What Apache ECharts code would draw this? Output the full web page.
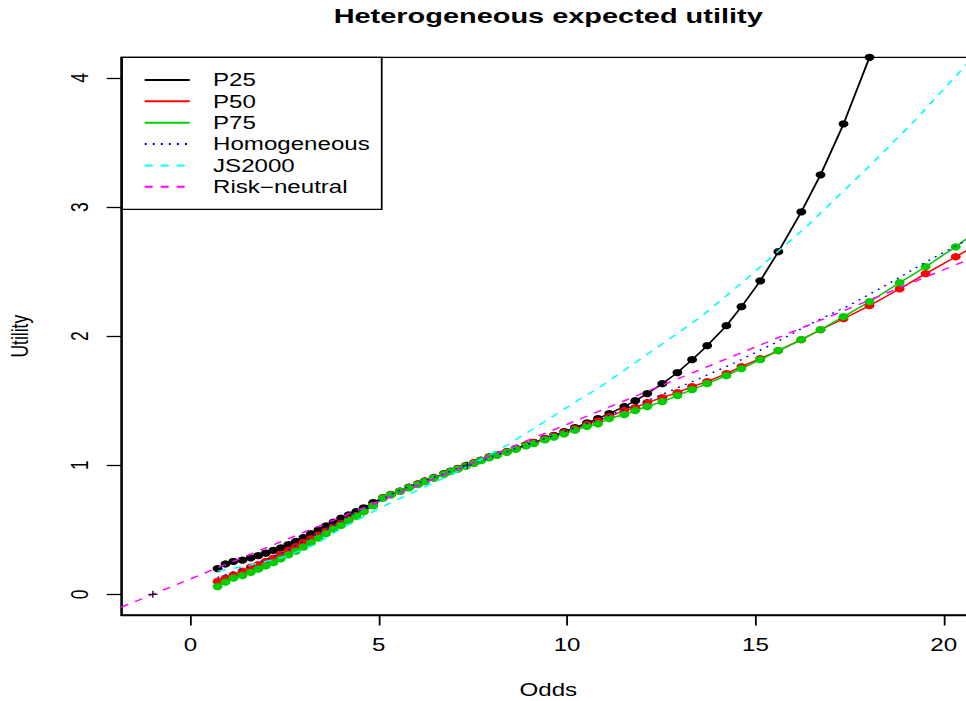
<!DOCTYPE html>
<html><head><meta charset="utf-8">
<script src="https://cdn.jsdelivr.net/npm/echarts@6/dist/echarts.min.js"></script>
<style>
html,body{margin:0;padding:0;background:#fff;overflow:hidden;}
#wrap{width:701px;height:701px;transform:scaleX(1.378031);transform-origin:0 0;}
</style></head><body><div id="wrap"></div>
<script>
// ---- data ----
const odds = [0.72,0.93,1.14,1.38,1.6,1.8,2.0,2.2,2.4,2.6,2.8,3.0,3.2,3.4,3.6,3.8,4.0,4.2,4.4,4.6,4.85,5.11,5.32,5.56,5.80,6.04,6.22,6.46,6.73,6.91,7.10,7.31,7.53,7.71,7.93,8.14,8.40,8.64,8.91,9.12,9.41,9.65,9.92,10.21,10.53,10.82,11.12,11.52,11.81,12.13,12.53,12.93,13.32,13.72,14.23,14.63,15.13,15.61,16.22,16.73,17.34,18.03,18.83,19.52,20.32,21.1];
const p25 = [0.20,0.235,0.255,0.265,0.283,0.30,0.32,0.34,0.36,0.385,0.41,0.44,0.47,0.50,0.53,0.56,0.59,0.615,0.64,0.67,0.71,0.75,0.775,0.80,0.83,0.855,0.878,0.905,0.935,0.955,0.975,0.998,1.02,1.04,1.064,1.083,1.106,1.13,1.158,1.178,1.208,1.232,1.26,1.292,1.328,1.362,1.40,1.455,1.50,1.555,1.632,1.718,1.818,1.926,2.081,2.228,2.429,2.654,2.963,3.25,3.644,4.16,4.85,5.5,6.3,7.2];
const p50 = [0.10,0.125,0.15,0.18,0.21,0.23,0.255,0.28,0.31,0.34,0.37,0.40,0.43,0.46,0.49,0.52,0.55,0.58,0.61,0.64,0.69,0.748,0.772,0.80,0.828,0.853,0.876,0.903,0.933,0.953,0.973,0.996,1.018,1.038,1.062,1.081,1.104,1.128,1.156,1.175,1.204,1.227,1.253,1.283,1.316,1.343,1.377,1.424,1.447,1.486,1.524,1.563,1.609,1.648,1.71,1.764,1.826,1.888,1.973,2.05,2.135,2.236,2.367,2.484,2.615,2.745];
const p75 = [0.06,0.095,0.125,0.145,0.17,0.195,0.22,0.245,0.275,0.305,0.335,0.365,0.40,0.435,0.47,0.505,0.535,0.57,0.605,0.64,0.685,0.745,0.77,0.797,0.825,0.85,0.873,0.90,0.93,0.95,0.97,0.993,1.015,1.035,1.058,1.077,1.10,1.123,1.15,1.168,1.196,1.218,1.243,1.272,1.302,1.32,1.362,1.393,1.424,1.455,1.493,1.54,1.586,1.632,1.694,1.749,1.818,1.888,1.973,2.05,2.151,2.267,2.414,2.538,2.692,2.86];
const homOdds = [0.72,1.5,2.5,3.5,4.5,5.5,6.5,7.35,8.5,9.5,10.5,11.5,12.5,13.5,14.5,15.5,16.5,17.5,18.5,19.5,20.84];
const homUtil = [0.13,0.21,0.33,0.49,0.65,0.80,0.91,1.0,1.115,1.215,1.32,1.43,1.545,1.67,1.80,1.945,2.10,2.24,2.40,2.57,2.78];
const jsOdds = [0.72,1.5,2.5,3.3,4.0,5.05,6.2,7.37,8.43,9.39,10.3,10.9,12.18,13.51,14.71,16.36,18.0,19.23,20.53,20.84];
const jsUtil = [0.18,0.22,0.29,0.385,0.51,0.672,0.83,0.99,1.16,1.335,1.505,1.61,1.87,2.14,2.43,2.85,3.31,3.67,4.08,4.18];
const rnOdds = [-1.84,20.84];
const rnUtil = [-0.1006,2.6156];
const refOdds = [-1,7.35];
const refUtil = [0,1];
const xTicks = [0,5,10,15,20];
const yTicks = [0,1,2,3,4];
const names = ['P25','P50','P75','Homogeneous','JS2000','Risk\u2212neutral'];

const zip = (xs, ys) => xs.map((x, i) => [x, ys[i]]);
const FONT = '"Liberation Sans", Arial, Helvetica, sans-serif';
const LW = 1.4;

const chart = echarts.init(document.getElementById('wrap'), null, {renderer: 'svg', width: 701, height: 701});
const ptSeries = (name, ys, color) => ({
  name, type: 'line', data: zip(odds, ys), symbol: 'circle', symbolSize: 7.2, showSymbol: true,
  lineStyle: {color, width: LW}, itemStyle: {color}, clip: true, silent: true, z: 2
});
const lnSeries = (name, xs, ys, color, dash) => ({
  name, type: 'line', data: zip(xs, ys), symbol: 'none', showSymbol: false,
  lineStyle: {color, width: LW, type: dash}, itemStyle: {color}, clip: true, silent: true, z: 3
});
const axisCommon = (ticks) => ({
  axisLine: {show: true, onZero: false, lineStyle: {color: '#000', width: 1.3}},
  axisTick: {show: true, inside: false, length: 10.5, customValues: ticks, lineStyle: {color: '#000', width: 1.3}},
  splitLine: {show: false}
});

chart.setOption({
  animation: false,
  backgroundColor: '#ffffff',
  grid: {left: 87.95, right: -6.8, top: 57.3, bottom: 86, containLabel: false, outerBoundsMode: 'none',
         show: true, borderColor: '#000', borderWidth: 1.3, backgroundColor: 'transparent'},
  xAxis: Object.assign({
    type: 'value', min: -1.84, max: 20.84, position: 'bottom',
    name: 'Odds', nameLocation: 'middle', nameGap: 66,
    nameTextStyle: {fontFamily: FONT, fontSize: 17.5, color: '#000'},
    axisLabel: {show: true, customValues: xTicks, margin: 21, fontFamily: FONT, fontSize: 17.5, color: '#000'}
  }, axisCommon(xTicks)),
  yAxis: Object.assign({
    type: 'value', min: -0.16, max: 4.16, position: 'left',
    name: 'Utility', nameLocation: 'middle', nameGap: 65, nameRotate: 90,
    nameTextStyle: {fontFamily: FONT, fontSize: 17.5, color: '#000'},
    axisLabel: {show: true, customValues: yTicks, margin: 21, rotate: 90, fontFamily: FONT, fontSize: 17.5, color: '#000'}
  }, axisCommon(yTicks)),
  legend: {
    data: names, orient: 'vertical', left: 104, top: 69.3, padding: 0, itemGap: 0,
    itemWidth: 32.7, itemHeight: 14, selectedMode: false,
    itemStyle: {opacity: 0},
    textStyle: {fontFamily: FONT, fontSize: 17.5, color: '#000', lineHeight: 21.35, padding: [0, 0, 0, 11.9]}
  },
  graphic: [
    {type: 'text', x: 397.8, y: 15.5, style: {text: 'Heterogeneous expected utility', fontFamily: FONT, fontSize: 21, fontWeight: 'bold', fill: '#000', align: 'center', verticalAlign: 'middle'}},
    {type: 'rect', shape: {x: 88.3, y: 57.3, width: 188.7, height: 152}, style: {fill: 'none', stroke: '#000', lineWidth: 1.3}, silent: true}
  ],
  series: [
    ptSeries('P25', p25, '#000000'),
    ptSeries('P50', p50, '#FF0000'),
    ptSeries('P75', p75, '#00CD00'),
    lnSeries('Homogeneous', homOdds, homUtil, '#0000FF', [1.46, 4.38]),
    lnSeries('JS2000', jsOdds, jsUtil, '#00FFFF', [5.8, 5.8]),
    lnSeries('Risk\u2212neutral', rnOdds, rnUtil, '#FF00FF', [5.8, 5.8]),
    {name: 'ref', type: 'scatter', data: zip(refOdds, refUtil), symbol: 'path://M0,4.2H10V5.8H0Z M4.2,0H5.8V10H4.2Z', symbolSize: 7, itemStyle: {color: '#000'}, silent: true, z: 5}
  ]
});
</script></body></html>
